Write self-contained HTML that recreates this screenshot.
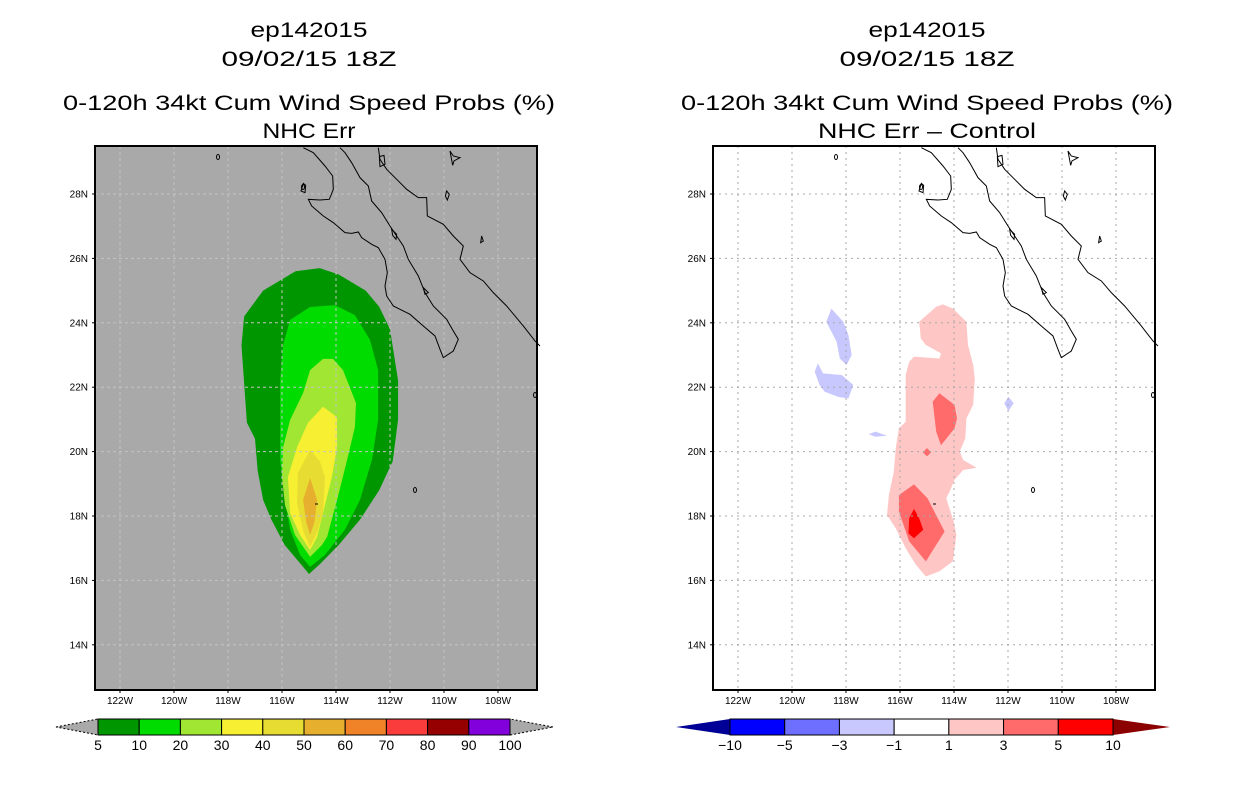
<!DOCTYPE html>
<html><head><meta charset="utf-8">
<style>
html,body{margin:0;padding:0;background:#fff;}
svg{display:block;font-family:"Liberation Sans",sans-serif;}
</style></head>
<body>
<svg id="chart" width="1236" height="800" viewBox="0 0 1236 800" xmlns="http://www.w3.org/2000/svg">
<g font-size="21" text-anchor="middle" fill="#000">
<text x="309" y="37" textLength="117" lengthAdjust="spacingAndGlyphs">ep142015</text>
<text x="309" y="66" textLength="175" lengthAdjust="spacingAndGlyphs">09/02/15 18Z</text>
<text x="309" y="110" textLength="492" lengthAdjust="spacingAndGlyphs">0-120h 34kt Cum Wind Speed Probs (%)</text>
<text x="309" y="138" textLength="93" lengthAdjust="spacingAndGlyphs">NHC Err</text>
</g>
<g font-size="21" text-anchor="middle" fill="#000">
<text x="927" y="37" textLength="117" lengthAdjust="spacingAndGlyphs">ep142015</text>
<text x="927" y="66" textLength="175" lengthAdjust="spacingAndGlyphs">09/02/15 18Z</text>
<text x="927" y="110" textLength="492" lengthAdjust="spacingAndGlyphs">0-120h 34kt Cum Wind Speed Probs (%)</text>
<text x="927" y="138" textLength="218" lengthAdjust="spacingAndGlyphs">NHC Err – Control</text>
</g>
<g id="panelL"></g>
<g id="panelR"></g>
<g id="cbL"></g>
<g id="cbR"></g>
</svg>
<script>
// ---- data ----
const lonTicks = [-122,-120,-118,-116,-114,-112,-110,-108];
const latTicks = [14,16,18,20,22,24,26,28];
const probLevels = [5,10,20,30,40,50];
const probColors = ['#009600','#00dc00','#a0e632','#f7ef32','#e6dc32','#e6af2d'];
const prob5  = [[-116.7,25.0],[-117.4,24.2],[-117.5,23.3],[-117.4,22.1],[-117.3,20.9],[-117.0,20.4],[-116.9,19.4],[-116.7,18.5],[-116.4,17.9],[-115.9,17.1],[-115.3,16.5],[-115.0,16.2],[-114.6,16.5],[-113.9,17.1],[-113.1,17.9],[-112.4,18.8],[-111.9,19.7],[-111.7,21.0],[-111.7,22.2],[-112.0,23.8],[-112.4,24.5],[-112.9,25.0],[-113.9,25.5],[-114.6,25.7],[-115.5,25.6]];
const prob10 = [[-114.96,24.49],[-115.7,24.09],[-115.96,23.31],[-116.07,22.22],[-116.07,20.98],[-116.07,19.74],[-115.89,18.5],[-115.7,17.57],[-115.33,16.79],[-114.96,16.42],[-114.41,16.79],[-113.67,17.57],[-113.11,18.5],[-112.67,19.74],[-112.44,20.98],[-112.44,22.53],[-112.74,23.47],[-113.3,24.24],[-114.04,24.55]];
const prob20 = [[-114.48,22.88],[-114.96,22.53],[-115.22,21.82],[-115.7,20.98],[-115.96,20.14],[-116.0,19.21],[-115.89,18.34],[-115.52,17.41],[-114.96,16.73],[-114.52,17.1],[-114.33,17.35],[-113.96,18.5],[-113.59,19.74],[-113.3,20.76],[-113.26,21.51],[-113.74,22.53],[-114.11,22.88]];
const prob30 = [[-114.48,21.39],[-115.04,20.89],[-115.44,20.14],[-115.78,19.21],[-115.7,18.09],[-115.33,17.41],[-114.96,16.94],[-114.7,17.35],[-114.48,18.09],[-114.15,19.21],[-113.96,20.14],[-113.96,21.07]];
const prob40 = [[-114.96,20.05],[-115.41,19.34],[-115.44,18.4],[-115.2,17.5],[-114.96,17.04],[-114.7,17.5],[-114.48,18.09],[-114.41,19.21],[-114.6,19.7]];
const prob50 = [[-114.96,19.18],[-115.22,18.5],[-115.1,17.8],[-114.96,17.41],[-114.8,17.8],[-114.7,18.5]];
const probPolys = [prob5,prob10,prob20,prob30,prob40,prob50];

const diffColors = {neg3:'#c8c8ff', pos1:'#ffc6c6', pos3:'#ff6a6a', pos5:'#ff0000'};
const diffPos1 = [[-115.29,24.03],[-114.66,24.5],[-114.41,24.57],[-114.04,24.44],[-113.54,24.03],[-113.48,23.31],[-113.29,22.69],[-113.23,22.28],[-113.29,21.45],[-113.54,21.03],[-113.58,20.41],[-113.79,20.0],[-113.66,19.74],[-113.16,19.5],[-113.66,19.43],[-113.98,19.12],[-114.16,18.76],[-114.29,18.55],[-114.01,17.83],[-113.91,17.41],[-114.04,16.59],[-114.54,16.28],[-115.04,16.12],[-115.41,16.48],[-115.79,17.0],[-116.16,17.62],[-116.48,18.03],[-116.41,18.65],[-116.23,19.38],[-116.16,20.1],[-116.04,20.72],[-115.79,20.93],[-115.79,21.65],[-115.79,22.38],[-115.66,22.79],[-115.48,22.95],[-114.54,22.89],[-114.48,23.05],[-115.04,23.31],[-115.23,23.51]];
const diffPos3a = [[-114.54,21.81],[-113.98,21.45],[-113.89,21.03],[-113.98,20.72],[-114.48,20.2],[-114.66,20.62],[-114.79,21.55]];
const diffPos3b = [[-115.16,19.98],[-115.0,20.11],[-114.84,19.98],[-115.0,19.85]];
const diffPos3c = [[-115.48,18.98],[-114.98,18.55],[-114.35,17.52],[-115.04,16.59],[-115.66,17.21],[-116.04,18.14],[-116.04,18.65]];
const diffPos5  = [[-115.48,18.22],[-115.29,17.93],[-115.14,17.57],[-115.48,17.31],[-115.69,17.46],[-115.66,17.93]];
const diffNeg1 = [[-118.54,24.44],[-118.1,24.03],[-117.91,23.62],[-117.79,23.0],[-117.98,22.69],[-118.23,22.89],[-118.35,23.41],[-118.73,24.03]];
const diffNeg2 = [[-119.04,22.74],[-118.85,22.43],[-118.16,22.38],[-117.73,22.07],[-117.91,21.65],[-118.29,21.7],[-118.79,21.86],[-118.98,22.07],[-119.16,22.48]];
const diffNeg3 = [[-117.16,20.54],[-116.91,20.62],[-116.48,20.49],[-116.91,20.46]];
const diffNeg4 = [[-111.98,21.7],[-111.79,21.5],[-111.98,21.26],[-112.14,21.5]];
const diffPolys = [[diffPos1,'pos1'],[diffPos3a,'pos3'],[diffPos3b,'pos3'],[diffPos3c,'pos3'],[diffPos5,'pos5'],[diffNeg1,'neg3'],[diffNeg2,'neg3'],[diffNeg3,'neg3'],[diffNeg4,'neg3']];

const cbLeftLabels = ['5','10','20','30','40','50','60','70','80','90','100'];
const cbLeftColors = ['#009600','#00dc00','#a0e632','#f7ef32','#e6dc32','#e6af2d','#f08228','#fa3c3c','#960000','#8200dc'];
const cbRightLabels = ['-10','-5','-3','-1','1','3','5','10'];
const cbRightColors = ['#0000ff','#6e6eff','#c8c8ff','#ffffff','#ffc6c6','#ff6a6a','#ff0000'];

// ---- helpers ----
const NS='http://www.w3.org/2000/svg';
function mk(tag, attrs, parent){const e=document.createElementNS(NS,tag);for(const k in attrs)e.setAttribute(k,attrs[k]);parent.appendChild(e);return e;}
const FR={t:146,b:690,w:442};
function xScale(x0){return lon=>x0+(lon+122)*27;}
function yScale(lat){return 194+(28-lat)*32.2;}
function polyPts(poly,xs){return poly.map(p=>xs(p[0]).toFixed(1)+','+yScale(p[1]).toFixed(1)).join(' ');}

const coastMain="M40,5 L70,20 L105,60 L128,90 L130,130 L118,160 L90,162 L55,160 L65,180 L100,210 L130,230 L165,260 L185,262 L205,258 L215,275 L245,295 L265,305 L285,340 L292,380 L285,420 L290,450 L310,480 L330,490 L360,505 L400,540 L435,570 L450,610 L460,635 L490,615 L505,580 L490,555 L470,520 L430,480 L405,440 L385,390 L355,340 L340,300 L300,240 L275,200 L245,165 L235,120 L210,95 L185,50 L165,20 L150,5";
const coastMainland="M265,5 L270,40 L290,70 L320,100 L350,130 L385,155 L410,155 L412,210 L460,235 L490,270 L520,300 L510,340 L540,380 L580,405 L610,440 L650,480 L700,540 L735,585 L750,600";
const islands="M268,32 L282,28 L285,55 L270,62 Z M40,112 L47,118 L45,140 L33,135 Z M470,135 L478,145 L472,162 L466,150 Z M480,15 L490,30 L510,35 L492,45 L488,58 Z M575,270 L580,285 L572,290 Z M400,425 L415,440 L405,445 Z M305,250 L320,265 L318,280 L308,268 Z";

function drawPanel(g, x0, frameX, bg, gridDash, gridCol, fillFn){
  const xs=xScale(x0);
  const r=mk('rect',{x:frameX,y:FR.t,width:FR.w,height:FR.b-FR.t,fill:bg},g);
  
  
  fillFn(g,xs);
  lonTicks.forEach(l=>{const x=xs(l);
    const ln=mk('line',{x1:x,x2:x,y1:FR.t,y2:FR.b,stroke:gridCol,'stroke-width':1,'stroke-dasharray':gridDash},g);
    
    });
  latTicks.forEach(l=>{const y=yScale(l);
    const ln=mk('line',{x1:frameX,x2:frameX+FR.w,y1:y,y2:y,stroke:gridCol,'stroke-width':1,'stroke-dasharray':gridDash},g);
    
    });
  const cg=mk('g',{transform:`translate(${frameX+195},146) scale(0.3333)`,fill:'none',stroke:'#000','stroke-width':3},g);
  
  
  mk('path',{d:coastMain},cg);mk('path',{d:coastMainland},cg);mk('path',{d:islands},cg);
  const isl=[[frameX+123,157],[frameX+208,187],[frameX+320,490],[frameX+440,395]];
  isl.forEach(p=>{mk('ellipse',{cx:p[0],cy:p[1],rx:1.5,ry:2.5,fill:'none',stroke:'#000','stroke-width':1},g);});
  mk('rect',{x:frameX+220,y:503.5,width:3,height:1,fill:'#000'},g);
  const fr=mk('rect',{x:frameX,y:FR.t,width:FR.w,height:FR.b-FR.t,fill:'none',stroke:'#000','stroke-width':2},g);
  
  
  lonTicks.forEach(l=>{const x=xs(l);
    mk('line',{x1:x,x2:x,y1:FR.b,y2:FR.b+3,stroke:'#000'},g);
    const t=mk('text',{x:x,y:704,'font-size':10,'text-anchor':'middle'},g);
    t.textContent=(-l)+'W';
    
    });
  latTicks.forEach(l=>{const y=yScale(l);
    mk('line',{x1:frameX-3,x2:frameX,y1:y,y2:y,stroke:'#000'},g);
    const t=mk('text',{x:frameX-7,y:y+3.5,'font-size':10,'text-anchor':'end'},g);
    t.textContent=l+'N';
    
    });
}

drawPanel(document.getElementById('panelL'),120,95,'#a9a9a9','3,3','#c4c4c4',(g,xs)=>{
  probPolys.forEach((p,i)=>{const e=mk('polygon',{points:polyPts(p,xs),fill:probColors[i]},g);
    
    });
});
drawPanel(document.getElementById('panelR'),738,713,'#ffffff','2,4','#a8a8a8',(g,xs)=>{
  diffPolys.forEach(d=>{const e=mk('polygon',{points:polyPts(d[0],xs),fill:diffColors[d[1]]},g);
    
    });
});

function drawCB(g,x0,x1,tipL,tipR,colors,labels,triL,triR,dashTri){
  const n=colors.length,w=(x1-x0)/n,y0=719,y1=735,ym=727;
  const tl=mk('polygon',{points:`${tipL},${ym} ${x0},${y0} ${x0},${y1}`,fill:triL,stroke:dashTri?'#000':'none','stroke-dasharray':'2,2','stroke-width':1},g);
  
  
  const tr=mk('polygon',{points:`${tipR},${ym} ${x1},${y0} ${x1},${y1}`,fill:triR,stroke:dashTri?'#000':'none','stroke-dasharray':'2,2','stroke-width':1},g);
  
  
  colors.forEach((c,i)=>{const r=mk('rect',{x:x0+i*w,y:y0,width:w,height:y1-y0,fill:c,stroke:'#000','stroke-width':1},g);
    
    });
  labels.forEach((s,i)=>{const t=mk('text',{x:x0+i*w,y:750,'font-size':14,'text-anchor':'middle'},g);
    t.textContent=s.replace('-','\u2212');
    
    });
}
drawCB(document.getElementById('cbL'),98,510,56,553,cbLeftColors,cbLeftLabels,'#a9a9a9','#a9a9a9',true);
drawCB(document.getElementById('cbR'),730,1113,676,1170,cbRightColors,cbRightLabels,'#000096','#8b0000',false);
</script>
</body></html>
